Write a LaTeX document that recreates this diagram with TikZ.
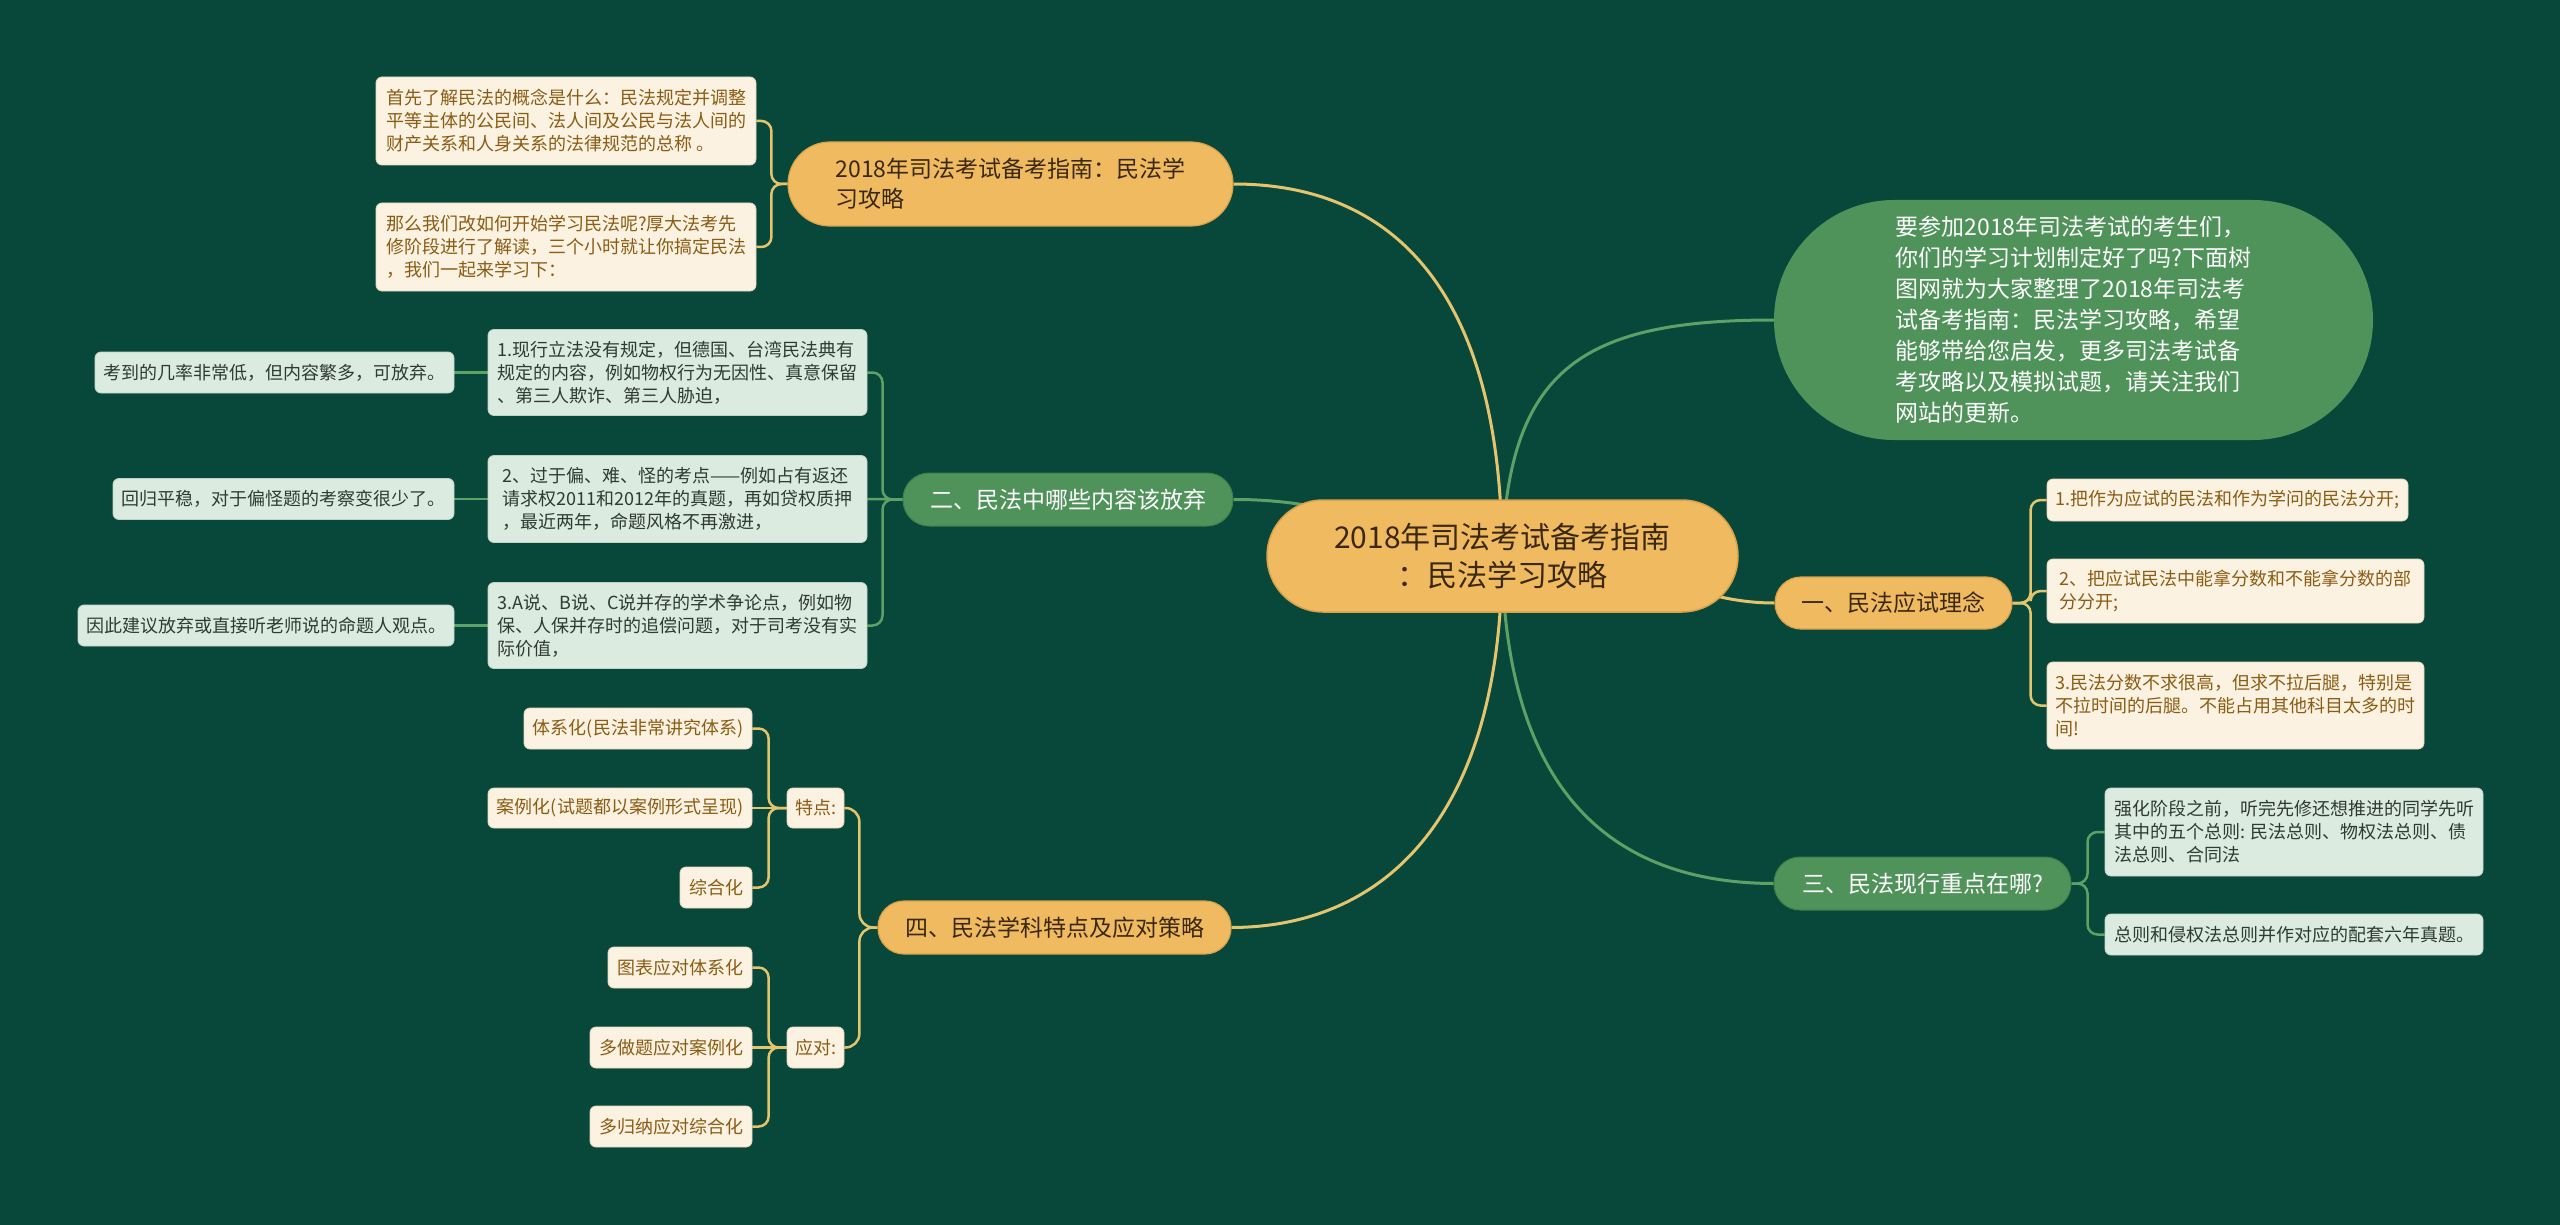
\documentclass[tikz,border=0pt]{standalone}
\usepackage{fontspec}
\setmainfont{Noto Sans CJK SC}
\definecolor{bgc}{HTML}{07483A}
\definecolor{orng}{HTML}{F0BA60}
\definecolor{orngd}{HTML}{D9A24A}
\definecolor{cream}{HTML}{FCF2E1}
\definecolor{creamd}{HTML}{E3D6BE}
\definecolor{creamtxt}{HTML}{8A5C14}
\definecolor{mint}{HTML}{DCEBE0}
\definecolor{mintd}{HTML}{C2D3C6}
\definecolor{minttxt}{HTML}{2E3B34}
\definecolor{gnode}{HTML}{4F925A}
\definecolor{yl}{HTML}{E5C46E}
\definecolor{gl}{HTML}{5FA066}
\definecolor{dtxt}{HTML}{3A2810}
\pgfdeclarelayer{bgfill}
\pgfdeclarelayer{lines}
\pgfsetlayers{bgfill,lines,main}
\tikzset{
  leafc/.style={fill=cream, draw=creamd, line width=0.8, rounded corners=6, text=creamtxt, font=\fontsize{18}{23}\selectfont, align=left, inner sep=0pt},
  leafm/.style={fill=mint, draw=mintd, line width=0.8, rounded corners=6, text=minttxt, font=\fontsize{18}{23}\selectfont, align=left, inner sep=0pt},
  borange/.style={fill=orng, draw=orngd, line width=1.2, text=dtxt, font=\fontsize{23}{30}\selectfont, align=left, inner sep=0pt},
  bgreen/.style={fill=gnode, draw=gnode!85!black, line width=1, text=white, font=\fontsize{23}{30}\selectfont, align=left, inner sep=0pt},
  cnode/.style={fill=orng, draw=orngd, line width=1.5, text=dtxt, font=\fontsize{30}{38}\selectfont, align=center, inner sep=0pt},
  yline/.style={draw=yl, line width=3},
  gline/.style={draw=gl, line width=3},
  ysub/.style={draw=yl, line width=2.5, rounded corners=10},
  gsub/.style={draw=gl, line width=2.5, rounded corners=10}
}
\begin{document}
\begin{tikzpicture}[x=1pt,y=-1pt]
\useasboundingbox (0,0) rectangle (2560,1225);
\begin{pgfonlayer}{bgfill}
\fill[bgc] (0,0) rectangle (2560,1225);
\end{pgfonlayer}

% center
\node[cnode, minimum width=471, minimum height=112, rounded corners=56] (c) at (1502.5,556) {2018年司法考试备考指南\\：民法学习攻略};
\coordinate (cA) at (1502,556);

% branch 1
\node[borange, minimum width=445, minimum height=84, rounded corners=42] (b1) at (1010.5,184) {2018年司法考试备考指南：民法学\\习攻略};
\node[leafc, minimum width=380, minimum height=88] (l1a) at (566,121) {首先了解民法的概念是什么：民法规定并调整\\平等主体的公民间、法人间及公民与法人间的\\财产关系和人身关系的法律规范的总称 。};
\node[leafc, minimum width=380, minimum height=88] (l1b) at (566,247) {那么我们改如何开始学习民法呢?厚大法考先\\修阶段进行了解读，三个小时就让你搞定民法\\，我们一起来学习下：};

% branch 2
\node[bgreen, minimum width=330, minimum height=53, rounded corners=26] (b2) at (1068,499.5) {二、民法中哪些内容该放弃};
\node[leafm, minimum width=379, minimum height=86] (l2a) at (677.5,372.5) {1.现行立法没有规定，但德国、台湾民法典有\\规定的内容，例如物权行为无因性、真意保留\\、第三人欺诈、第三人胁迫，};
\node[leafm, minimum width=379, minimum height=87] (l2b) at (677.5,499) {2、过于偏、难、怪的考点——例如占有返还\\请求权2011和2012年的真题，再如贷权质押\\，最近两年，命题风格不再激进，};
\node[leafm, minimum width=379, minimum height=86] (l2c) at (677.5,625.5) {3.A说、B说、C说并存的学术争论点，例如物\\保、人保并存时的追偿问题，对于司考没有实\\际价值，};
\node[leafm, minimum width=359, minimum height=41] (s2a) at (274.5,372.5) {考到的几率非常低，但内容繁多，可放弃。};
\node[leafm, minimum width=341, minimum height=41] (s2b) at (283.5,499) {回归平稳，对于偏怪题的考察变很少了。};
\node[leafm, minimum width=376, minimum height=41] (s2c) at (266,625.5) {因此建议放弃或直接听老师说的命题人观点。};

% bubble
\node[fill=gnode, text=white, font=\fontsize{23}{31}\selectfont, align=left, inner sep=0pt, minimum width=599, minimum height=240, rounded corners=120] (bub) at (2073.5,320) {要参加2018年司法考试的考生们，\\你们的学习计划制定好了吗?下面树\\图网就为大家整理了2018年司法考\\试备考指南：民法学习攻略，希望\\能够带给您启发，更多司法考试备\\考攻略以及模拟试题，请关注我们\\网站的更新。};

% branch one
\node[borange, minimum width=237, minimum height=52, rounded corners=26] (bone) at (1893.5,603) {一、民法应试理念};
\node[leafc, minimum width=361, minimum height=42] (r1) at (2227.5,500) {1.把作为应试的民法和作为学问的民法分开;};
\node[leafc, minimum width=377, minimum height=64] (r2) at (2235.5,591) {2、把应试民法中能拿分数和不能拿分数的部\\分分开;};
\node[leafc, minimum width=377, minimum height=87] (r3) at (2235.5,705.5) {3.民法分数不求很高，但求不拉后腿，特别是\\不拉时间的后腿。不能占用其他科目太多的时\\间!};

% branch 3
\node[bgreen, minimum width=297, minimum height=53, rounded corners=26] (b3) at (1922.5,883.5) {三、民法现行重点在哪?};
\node[leafm, minimum width=378, minimum height=88] (t3a) at (2294,832) {强化阶段之前，听完先修还想推进的同学先听\\其中的五个总则: 民法总则、物权法总则、债\\法总则、合同法};
\node[leafm, minimum width=378, minimum height=41] (t3b) at (2294,934.5) {总则和侵权法总则并作对应的配套六年真题。};

% branch 4
\node[borange, minimum width=353, minimum height=53, rounded corners=26] (b4) at (1054.5,927.5) {四、民法学科特点及应对策略};
\node[leafc, minimum width=57, minimum height=40] (td) at (815.5,808) {特点:};
\node[leafc, minimum width=57, minimum height=41] (yd) at (815.5,1047.5) {应对:};
\node[leafc, minimum width=228, minimum height=41] (u1) at (638,728.5) {体系化(民法非常讲究体系)};
\node[leafc, minimum width=264, minimum height=40] (u2) at (620,808) {案例化(试题都以案例形式呈现)};
\node[leafc, minimum width=72, minimum height=41] (u3) at (716,887.5) {综合化};
\node[leafc, minimum width=144, minimum height=41] (v1) at (680,967.5) {图表应对体系化};
\node[leafc, minimum width=162, minimum height=41] (v2) at (671,1047.5) {多做题应对案例化};
\node[leafc, minimum width=162, minimum height=41] (v3) at (671,1126.5) {多归纳应对综合化};

\begin{pgfonlayer}{lines}
% main connectors
\draw[yline] (cA) .. controls (1502,300) and (1400,184) .. (b1.east);
\draw[gline] (cA) .. controls (1508,370) and (1580,320) .. (bub.west);
\draw[gline] (b2.east) .. controls (1330,499) and (1400,530) .. (cA);
\draw[yline] (cA) .. controls (1650,560) and (1690,603) .. (bone.west);
\draw[gline] (cA) .. controls (1505,790) and (1610,883) .. (b3.west);
\draw[yline] (cA) .. controls (1502,810) and (1390,927) .. (b4.east);
% branch 1
\draw[ysub] (b1.west) -- ++(-16,0) |- (l1a.east);
\draw[ysub] (b1.west) -- ++(-16,0) |- (l1b.east);
% branch 2
\draw[gsub] (b2.west) -- ++(-20,0) |- (l2a.east);
\draw[gsub] (b2.west) -- (l2b.east);
\draw[gsub] (b2.west) -- ++(-20,0) |- (l2c.east);
\draw[gsub] (l2a.west) -- (s2a.east);
\draw[gsub] (l2b.west) -- (s2b.east);
\draw[gsub] (l2c.west) -- (s2c.east);
% branch one
\draw[ysub] (bone.east) -- ++(18,0) |- (r1.west);
\draw[ysub] (bone.east) -- ++(18,0) |- (r2.west);
\draw[ysub] (bone.east) -- ++(18,0) |- (r3.west);
% branch 3
\draw[gsub] (b3.east) -- ++(16,0) |- (t3a.west);
\draw[gsub] (b3.east) -- ++(16,0) |- (t3b.west);
% branch 4
\draw[ysub, rounded corners=14] (b4.west) -- ++(-18,0) |- (td.east);
\draw[ysub, rounded corners=14] (b4.west) -- ++(-18,0) |- (yd.east);
\draw[ysub] (td.west) -- ++(-18,0) |- (u1.east);
\draw[ysub] (td.west) -- (u2.east);
\draw[ysub] (td.west) -- ++(-18,0) |- (u3.east);
\draw[ysub] (yd.west) -- ++(-18,0) |- (v1.east);
\draw[ysub] (yd.west) -- (v2.east);
\draw[ysub] (yd.west) -- ++(-18,0) |- (v3.east);
\end{pgfonlayer}
\end{tikzpicture}
\end{document}
